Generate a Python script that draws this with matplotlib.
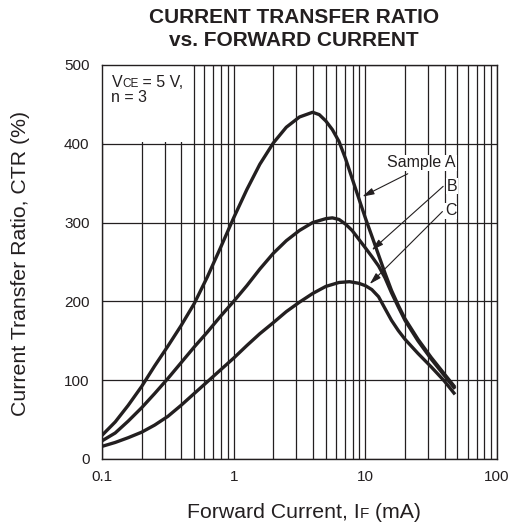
import matplotlib
matplotlib.use("Agg")
import matplotlib.pyplot as plt
from matplotlib.patches import Rectangle
from matplotlib.offsetbox import TextArea, HPacker, VPacker, AnnotationBbox

plt.rcParams["font.family"] = ["Liberation Sans", "DejaVu Sans"]

INK = "#231f20"

# curve readings, forward current (mA) vs CTR (%)
a_if = [0.1, 0.126, 0.158, 0.2, 0.251, 0.316, 0.398, 0.501, 0.631, 0.794, 1.0, 1.26, 1.58,
        2.0, 2.51, 3.16, 3.98, 4.47, 5.01, 5.62, 6.31, 7.08, 7.94, 8.91, 10, 11.2, 12.6,
        14.1, 15.8, 17.8, 20, 25.1, 31.6, 39.8, 48]
a_ctr = [30, 47, 68, 92, 118, 143, 169, 197, 231, 268, 306, 342, 374,
         401, 421, 434, 440, 437, 429, 418, 403, 381, 356, 331, 306, 283, 259,
         236, 214, 195, 178, 152, 129, 108, 91]

b_if = [0.1, 0.126, 0.158, 0.2, 0.251, 0.316, 0.398, 0.501, 0.631, 0.794, 1.0, 1.26, 1.58,
        2.0, 2.51, 3.16, 3.98, 5.01, 5.62, 6.31, 7.08, 7.94, 8.91, 10, 11.2, 12.6,
        14.1, 15.8, 17.8, 20, 25.1, 31.6, 39.8, 48]
b_ctr = [23, 33, 48, 65, 83, 102, 122, 142, 161, 181, 200, 220, 241,
         261, 277, 290, 300, 305, 306, 304, 298, 290, 279, 268, 257, 245,
         230, 211, 193, 176, 150, 127, 106, 89]

c_if = [0.1, 0.126, 0.158, 0.2, 0.251, 0.316, 0.398, 0.501, 0.631, 0.794, 1.0, 1.26, 1.58,
        2.0, 2.51, 3.16, 3.98, 5.01, 6.31, 7.59, 8.91, 10, 11.2, 12.6, 14.1, 15.8,
        17.8, 20, 25.1, 31.6, 39.8, 48]
c_ctr = [16, 21, 27, 34, 43, 54, 68, 83, 98, 113, 128, 144, 159,
         173, 187, 199, 210, 219, 224, 225, 223, 220, 215, 206, 191, 176,
         163, 152, 134, 117, 99, 82]

# label text, label position, arrow start, arrow tip
callouts = [
    ("Sample A", (26.8, 376), (21.0, 362), (9.5, 333)),
    ("B", (45.3, 346), (39.0, 346), (11.2, 265)),
    ("C", (44.5, 315), (38.5, 314), (10.8, 222)),
]

x_major = [0.1, 1, 10, 100]
x_major_labels = ["0.1", "1", "10", "100"]
y_ticks = [0, 100, 200, 300, 400, 500]


def main():
    fig = plt.figure(figsize=(5.19, 5.31), dpi=100)
    ax = fig.add_axes([0.1965, 0.1356, 0.7611, 0.742])

    ax.set_xscale("log")
    ax.set_xlim(0.1, 100)
    ax.set_ylim(0, 500)
    ax.set_xticks(x_major)
    ax.set_xticklabels(x_major_labels)
    ax.set_yticks(y_ticks)
    ax.tick_params(axis="both", which="both", length=0, labelsize=11, colors=INK)
    ax.tick_params(axis="x", pad=8)
    ax.tick_params(axis="y", pad=9)
    ax.set_axisbelow(True)
    ax.grid(True, axis="x", which="both", color=INK, lw=0.9)
    ax.grid(True, axis="y", which="major", color=INK, lw=0.9)
    for sp in ax.spines.values():
        sp.set_color(INK)
        sp.set_linewidth(1.0)

    # white box behind the conditions text
    ax.add_patch(Rectangle((0.1, 402), 0.385, 100, facecolor="white",
                           edgecolor="none", zorder=1))

    for xs, ys in [(a_if, a_ctr), (b_if, b_ctr), (c_if, c_ctr)]:
        ax.plot(xs, ys, color=INK, lw=2.4, solid_capstyle="butt",
                solid_joinstyle="round", zorder=3)

    for label, pos, start, tip in callouts:
        ax.annotate("", xy=tip, xytext=start,
                    arrowprops=dict(arrowstyle="-|>,head_length=0.7,head_width=0.2",
                                    lw=0.8, color=INK, shrinkA=0, shrinkB=0,
                                    mutation_scale=10), zorder=4)
        ax.text(pos[0], pos[1], label, fontsize=11.5, color=INK, ha="center", va="center",
                bbox=dict(facecolor="white", edgecolor="none", pad=0.5), zorder=4)

    # conditions text with small-caps subscript
    line1 = HPacker(children=[
        TextArea("V", textprops=dict(size=11.5, color=INK)),
        TextArea("CE", textprops=dict(size=8.5, color=INK)),
        TextArea(" = 5 V,", textprops=dict(size=11.5, color=INK)),
    ], align="baseline", pad=0, sep=0)
    line2 = TextArea("n = 3", textprops=dict(size=11.5, color=INK))
    cond = VPacker(children=[line1, line2], align="left", pad=0, sep=0)
    ax.add_artist(AnnotationBbox(cond, (0.024, 0.975), xycoords="axes fraction",
                                 box_alignment=(0, 1), frameon=False, zorder=5))

    # x label
    xl = HPacker(children=[
        TextArea("Forward Current, I", textprops=dict(size=15.3, color=INK)),
        TextArea("F", textprops=dict(size=11, color=INK)),
        TextArea(" (mA)", textprops=dict(size=15.3, color=INK)),
    ], align="baseline", pad=0, sep=0)
    fig.add_artist(AnnotationBbox(xl, (304 / 519, 1 - 512 / 531), xycoords="figure fraction",
                                  box_alignment=(0.5, 0.5), frameon=False))

    fig.text(21 / 519, 1 - 263 / 531, "Current Transfer Ratio, CTR (%)", rotation=90,
             ha="center", va="center", fontsize=15.3, color=INK)

    fig.text(294 / 519, 1 - 29 / 531, "CURRENT TRANSFER RATIO\nvs. FORWARD CURRENT",
             ha="center", va="center", fontsize=15, fontweight="bold", color=INK,
             linespacing=1.25)

    fig.savefig("out.png", dpi=100)
    plt.close(fig)


if __name__ == "__main__":
    main()
